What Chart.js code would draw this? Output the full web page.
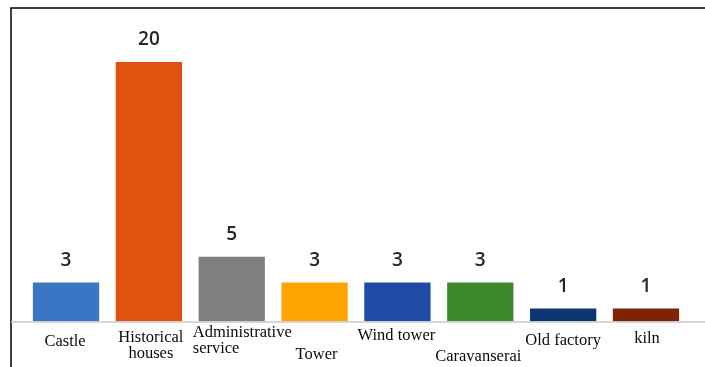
<!DOCTYPE html>
<html>
<head>
<meta charset="utf-8">
<script src="https://cdn.jsdelivr.net/npm/chart.js@4"></script>
<style>
  html, body { margin: 0; padding: 0; background: #fff; }
  #wrap { width: 705px; height: 367px; }
</style>
</head>
<body>
<div id="wrap"><canvas id="monumentChart"></canvas></div>
<script>
// Chart data
const categories = [
    ['Castle'],
    ['Historical', 'houses'],
    ['Administrative', 'service'],
    ['Tower'],
    ['Wind tower'],
    ['Caravanserai'],
    ['Old factory'],
    ['kiln']
];
const counts = [3, 20, 5, 3, 3, 3, 1, 1];
const barColors = ['#3a76c4', '#e0520f', '#7f7f7f', '#fea300', '#1f4aa5', '#3d8a2e', '#0c3670', '#7e2406'];

// Where each category label sits relative to its bar (dx, dy from baseline, align)
const labelPlacement = [
    [-1, 20.5, 'center'],
    [2, 16.5, 'center'],
    [-39, 11.5, 'left'],
    [2, 33.5, 'center'],
    [-1, 14.5, 'center'],
    [-2, 35.5, 'center'],
    [0, 19.5, 'center'],
    [1, 17.5, 'center']
];

const decorations = {
    id: 'decorations',
    afterDatasetsDraw(chart) {
        const ctx = chart.ctx;
        const area = chart.chartArea;
        const xScale = chart.scales.x;
        ctx.save();

        // frame (top and left only)
        ctx.strokeStyle = '#000';
        ctx.lineWidth = 1.5;
        ctx.beginPath();
        ctx.moveTo(11, 367);
        ctx.lineTo(11, 8);
        ctx.lineTo(705, 8);
        ctx.stroke();

        // baseline
        ctx.strokeStyle = '#c8c8c8';
        ctx.lineWidth = 1.5;
        ctx.beginPath();
        ctx.moveTo(11, area.bottom + 0.5);
        ctx.lineTo(705, area.bottom + 0.5);
        ctx.stroke();

        // value labels above bars
        const meta = chart.getDatasetMeta(0);
        ctx.fillStyle = '#262626';
        ctx.font = '600 19px "Open Sans"';
        ctx.textAlign = 'center';
        ctx.textBaseline = 'middle';
        meta.data.forEach((bar, i) => {
            ctx.fillText(String(counts[i]), bar.x, bar.y - 22);
        });

        // category labels
        ctx.fillStyle = '#0a0a0a';
        ctx.font = '16.5px "Liberation Serif"';
        categories.forEach((lines, i) => {
            const [dx, dy, align] = labelPlacement[i];
            const x = xScale.getPixelForValue(i) + dx;
            ctx.textAlign = align;
            lines.forEach((line, j) => {
                ctx.fillText(line, x, area.bottom + dy + j * 16);
            });
        });
        ctx.restore();
    }
};

const ctxChart = document.getElementById('monumentChart');
const myChart = new Chart(ctxChart, {
    type: 'bar',
    data: {
        labels: categories,
        datasets: [{
            data: counts,
            backgroundColor: barColors,
            borderWidth: 0,
            categoryPercentage: 1.0,
            barPercentage: 0.8
        }]
    },
    plugins: [decorations],
    options: {
        responsive: true,
        maintainAspectRatio: false,
        animation: false,
        layout: {
            padding: { left: 24.6, right: 17.6, top: 62, bottom: 45.5 }
        },
        scales: {
            x: { display: false },
            y: { display: false, min: 0, max: 20 }
        },
        plugins: {
            legend: { display: false },
            tooltip: { enabled: false }
        }
    }
});
</script>
</body>
</html>
